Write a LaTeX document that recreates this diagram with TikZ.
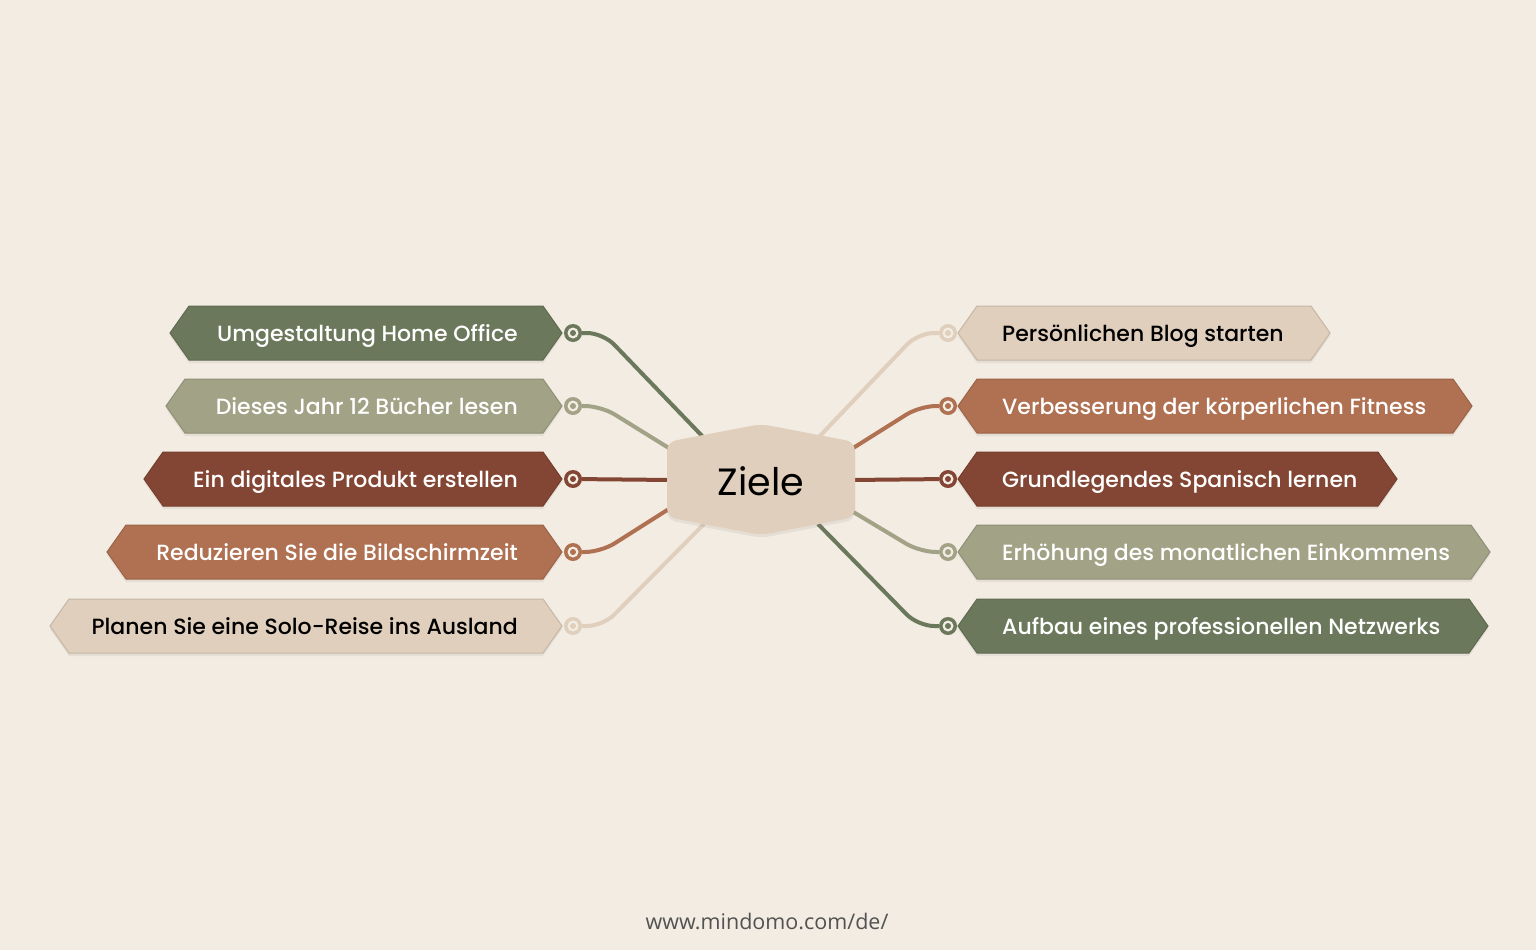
\documentclass[tikz,border=0pt]{standalone}
\usepackage{fontspec}
\setmainfont{Poppins}
\newfontfamily\medf{Poppins Medium}
\newfontfamily\urlf{Open Sans}
\usetikzlibrary{shadows}
\definecolor{bg}{HTML}{F3ECE2}
\definecolor{cgreen}{HTML}{6C785C}
\definecolor{csage}{HTML}{A2A286}
\definecolor{cbrown}{HTML}{844634}
\definecolor{cterra}{HTML}{B07052}
\definecolor{cbeige}{HTML}{E0CFBD}
\tikzset{
  boxshape/.style={line width=1pt, drop shadow={opacity=0.13, shadow xshift=0pt, shadow yshift=-3pt}},
  lbl/.style={font=\medf\fontsize{22}{26}\selectfont, inner sep=0pt},
  dotnode/.style={circle, fill=#1, minimum size=18pt, inner sep=0pt,
    path picture={\fill[bg] (path picture bounding box.center) circle (5.5);
                  \fill[#1] (path picture bounding box.center) circle (3);}},
  conn/.style={draw=#1, line width=4pt, rounded corners=16pt},
}
\newcommand\lbox[6]{%
  \path[boxshape, fill=#4, draw=#4!88!black] (#2,#3) -- ({#2+19},{#3-27}) -- (543,{#3-27}) -- (562,#3) -- (543,{#3+27}) -- ({#2+19},{#3+27}) -- cycle;
  \node[lbl, text=#5, anchor=base east] (#1) at (518,{#3+8}) {#6};
}
\newcommand\rbox[6]{%
  \path[boxshape, fill=#4, draw=#4!88!black] (958,#3) -- (977,{#3-27}) -- ({#2-19},{#3-27}) -- (#2,#3) -- ({#2-19},{#3+27}) -- (977,{#3+27}) -- cycle;
  \node[lbl, text=#5, anchor=base west] (#1) at (1002,{#3+8}) {#6};
}
\begin{document}
\begin{tikzpicture}[x=1pt,y=-1pt]
\fill[bg] (0,0) rectangle (1536,950);
\useasboundingbox (0,0) rectangle (1536,950);

% end points on the central node
\coordinate (el1) at (706,440);
\coordinate (el2) at (672,450);
\coordinate (el3) at (672,480);
\coordinate (el4) at (672,507);
\coordinate (el5) at (704,524);
\coordinate (er1) at (816,440);
\coordinate (er2) at (850,450);
\coordinate (er3) at (850,480);
\coordinate (er4) at (850,510);
\coordinate (er5) at (818,524);

% dots
\node[dotnode=cgreen] (dl1) at (573,333) {};
\node[dotnode=csage]  (dl2) at (573,406) {};
\node[dotnode=cbrown] (dl3) at (573,479) {};
\node[dotnode=cterra] (dl4) at (573,552) {};
\node[dotnode=cbeige] (dl5) at (573,626) {};
\node[dotnode=cbeige] (dr1) at (948,333) {};
\node[dotnode=cterra] (dr2) at (948,406) {};
\node[dotnode=cbrown] (dr3) at (948,479) {};
\node[dotnode=csage]  (dr4) at (948,552) {};
\node[dotnode=cgreen] (dr5) at (948,626) {};

% connectors
\draw[conn=cgreen] (dl1) -- ++(30,0) -- (el1);
\draw[conn=csage]  (dl2) -- ++(28,0) -- (el2);
\draw[conn=cbrown] (dl3) -- (el3);
\draw[conn=cterra] (dl4) -- ++(28,0) -- (el4);
\draw[conn=cbeige] (dl5) -- ++(30,0) -- (el5);
\draw[conn=cbeige] (dr1) -- ++(-30,0) -- (er1);
\draw[conn=cterra] (dr2) -- ++(-28,0) -- (er2);
\draw[conn=cbrown] (dr3) -- (er3);
\draw[conn=csage]  (dr4) -- ++(-28,0) -- (er4);
\draw[conn=cgreen] (dr5) -- ++(-30,0) -- (er5);

% left boxes
\lbox{l1}{170}{333}{cgreen}{white}{Umgestaltung Home Office}
\lbox{l2}{166}{406}{csage}{white}{Dieses Jahr 12 Bücher lesen}
\lbox{l3}{144}{479}{cbrown}{white}{Ein digitales Produkt erstellen}
\lbox{l4}{107}{552}{cterra}{white}{Reduzieren Sie die Bildschirmzeit}
\lbox{l5}{50}{626}{cbeige}{black}{Planen Sie eine Solo-Reise ins Ausland}
% right boxes
\rbox{r1}{1330}{333}{cbeige}{black}{Persönlichen Blog starten}
\rbox{r2}{1472}{406}{cterra}{white}{Verbesserung der körperlichen Fitness}
\rbox{r3}{1397}{479}{cbrown}{white}{Grundlegendes Spanisch lernen}
\rbox{r4}{1490}{552}{csage}{white}{Erhöhung des monatlichen Einkommens}
\rbox{r5}{1488}{626}{cgreen}{white}{Aufbau eines professionellen Netzwerks}

% central node
\path[fill=cbeige, rounded corners=9pt, drop shadow={opacity=0.13, shadow xshift=0pt, shadow yshift=-3pt}]
  (667,442) -- (761,424) -- (855,442) -- (855,517) -- (761,535) -- (667,517) -- cycle;
\node[font=\fontsize{38}{44}\selectfont, inner sep=0pt, anchor=base] (z) at (761,495) {Ziele};

% footer
\node[font=\urlf\fontsize{21.5}{25}\selectfont, text=black!68, anchor=base, inner sep=0pt] (url) at (767,929) {www.mindomo.com/de/};
\end{tikzpicture}
\end{document}
